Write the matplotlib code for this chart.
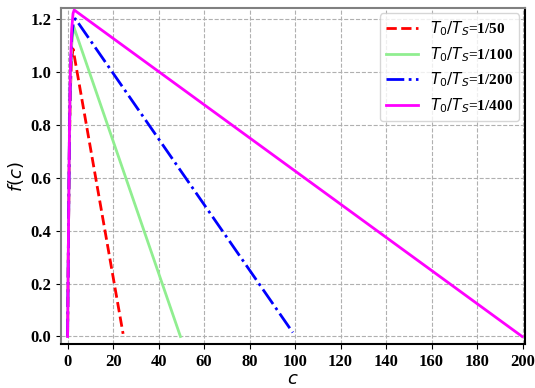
import matplotlib
matplotlib.use('Agg')
import matplotlib.pyplot as plt

# curve data (c, f(c))
c_50 = [0, 0.4, 0.8, 1.2, 1.7, 2.4, 24.4]
f_50 = [0, 0.40, 0.72, 0.92, 1.04, 1.086, 0.01]

c_100 = [0, 0.4, 0.8, 1.2, 1.8, 2.7, 49.6]
f_100 = [0, 0.40, 0.74, 0.96, 1.10, 1.17, 0.0]

c_200 = [0, 0.4, 0.8, 1.2, 1.8, 2.6, 3.4, 99.0]
f_200 = [0, 0.40, 0.75, 0.98, 1.13, 1.19, 1.20, 0.015]

c_400 = [0, 0.4, 0.8, 1.2, 1.8, 2.4, 2.9, 199.8]
f_400 = [0, 0.40, 0.76, 1.00, 1.16, 1.22, 1.233, 0.0]

labels = ['$T_0/T_S$=1/50', '$T_0/T_S$=1/100', '$T_0/T_S$=1/200', '$T_0/T_S$=1/400']

plt.rcParams['font.family'] = ['Liberation Serif', 'DejaVu Serif']

fig = plt.figure(figsize=(5.35, 3.88), dpi=100)
ax = fig.add_axes([0.114, 0.113, 0.867, 0.866])

ax.plot(c_50, f_50, color='red', linestyle='--', linewidth=2, label=labels[0])
ax.plot(c_100, f_100, color='lightgreen', linestyle='-', linewidth=2, label=labels[1])
ax.plot(c_200, f_200, color='blue', linestyle='-.', linewidth=2, label=labels[2])
ax.plot(c_400, f_400, color='magenta', linestyle='-', linewidth=2, label=labels[3])

ax.set_xlim(-2.9, 201)
ax.set_ylim(-0.029, 1.24)
ax.set_xticks(range(0, 201, 20))
ax.set_yticks([0.0, 0.2, 0.4, 0.6, 0.8, 1.0, 1.2])
ax.set_yticklabels(['0.0', '0.2', '0.4', '0.6', '0.8', '1.0', '1.2'])

for lab in ax.get_xticklabels() + ax.get_yticklabels():
    lab.set_fontweight('bold')
    lab.set_fontsize(12)

ax.grid(True, linestyle='--', color='#b0b0b0', linewidth=0.8)

ax.set_xlabel('$c$', fontsize=13, labelpad=1)
ax.set_ylabel('$f(c)$', fontsize=13, labelpad=3)

for side in ['left', 'top']:
    ax.spines[side].set_color('#808080')
for side in ['bottom', 'right']:
    ax.spines[side].set_color('black')
for s in ax.spines.values():
    s.set_linewidth(1.5)

ax.legend(loc='upper right', prop={'family': ['Liberation Serif'], 'weight': 'bold', 'size': 11},
          handlelength=2.1, labelspacing=0.45, borderaxespad=0.35)

plt.savefig('out.png', dpi=100)
